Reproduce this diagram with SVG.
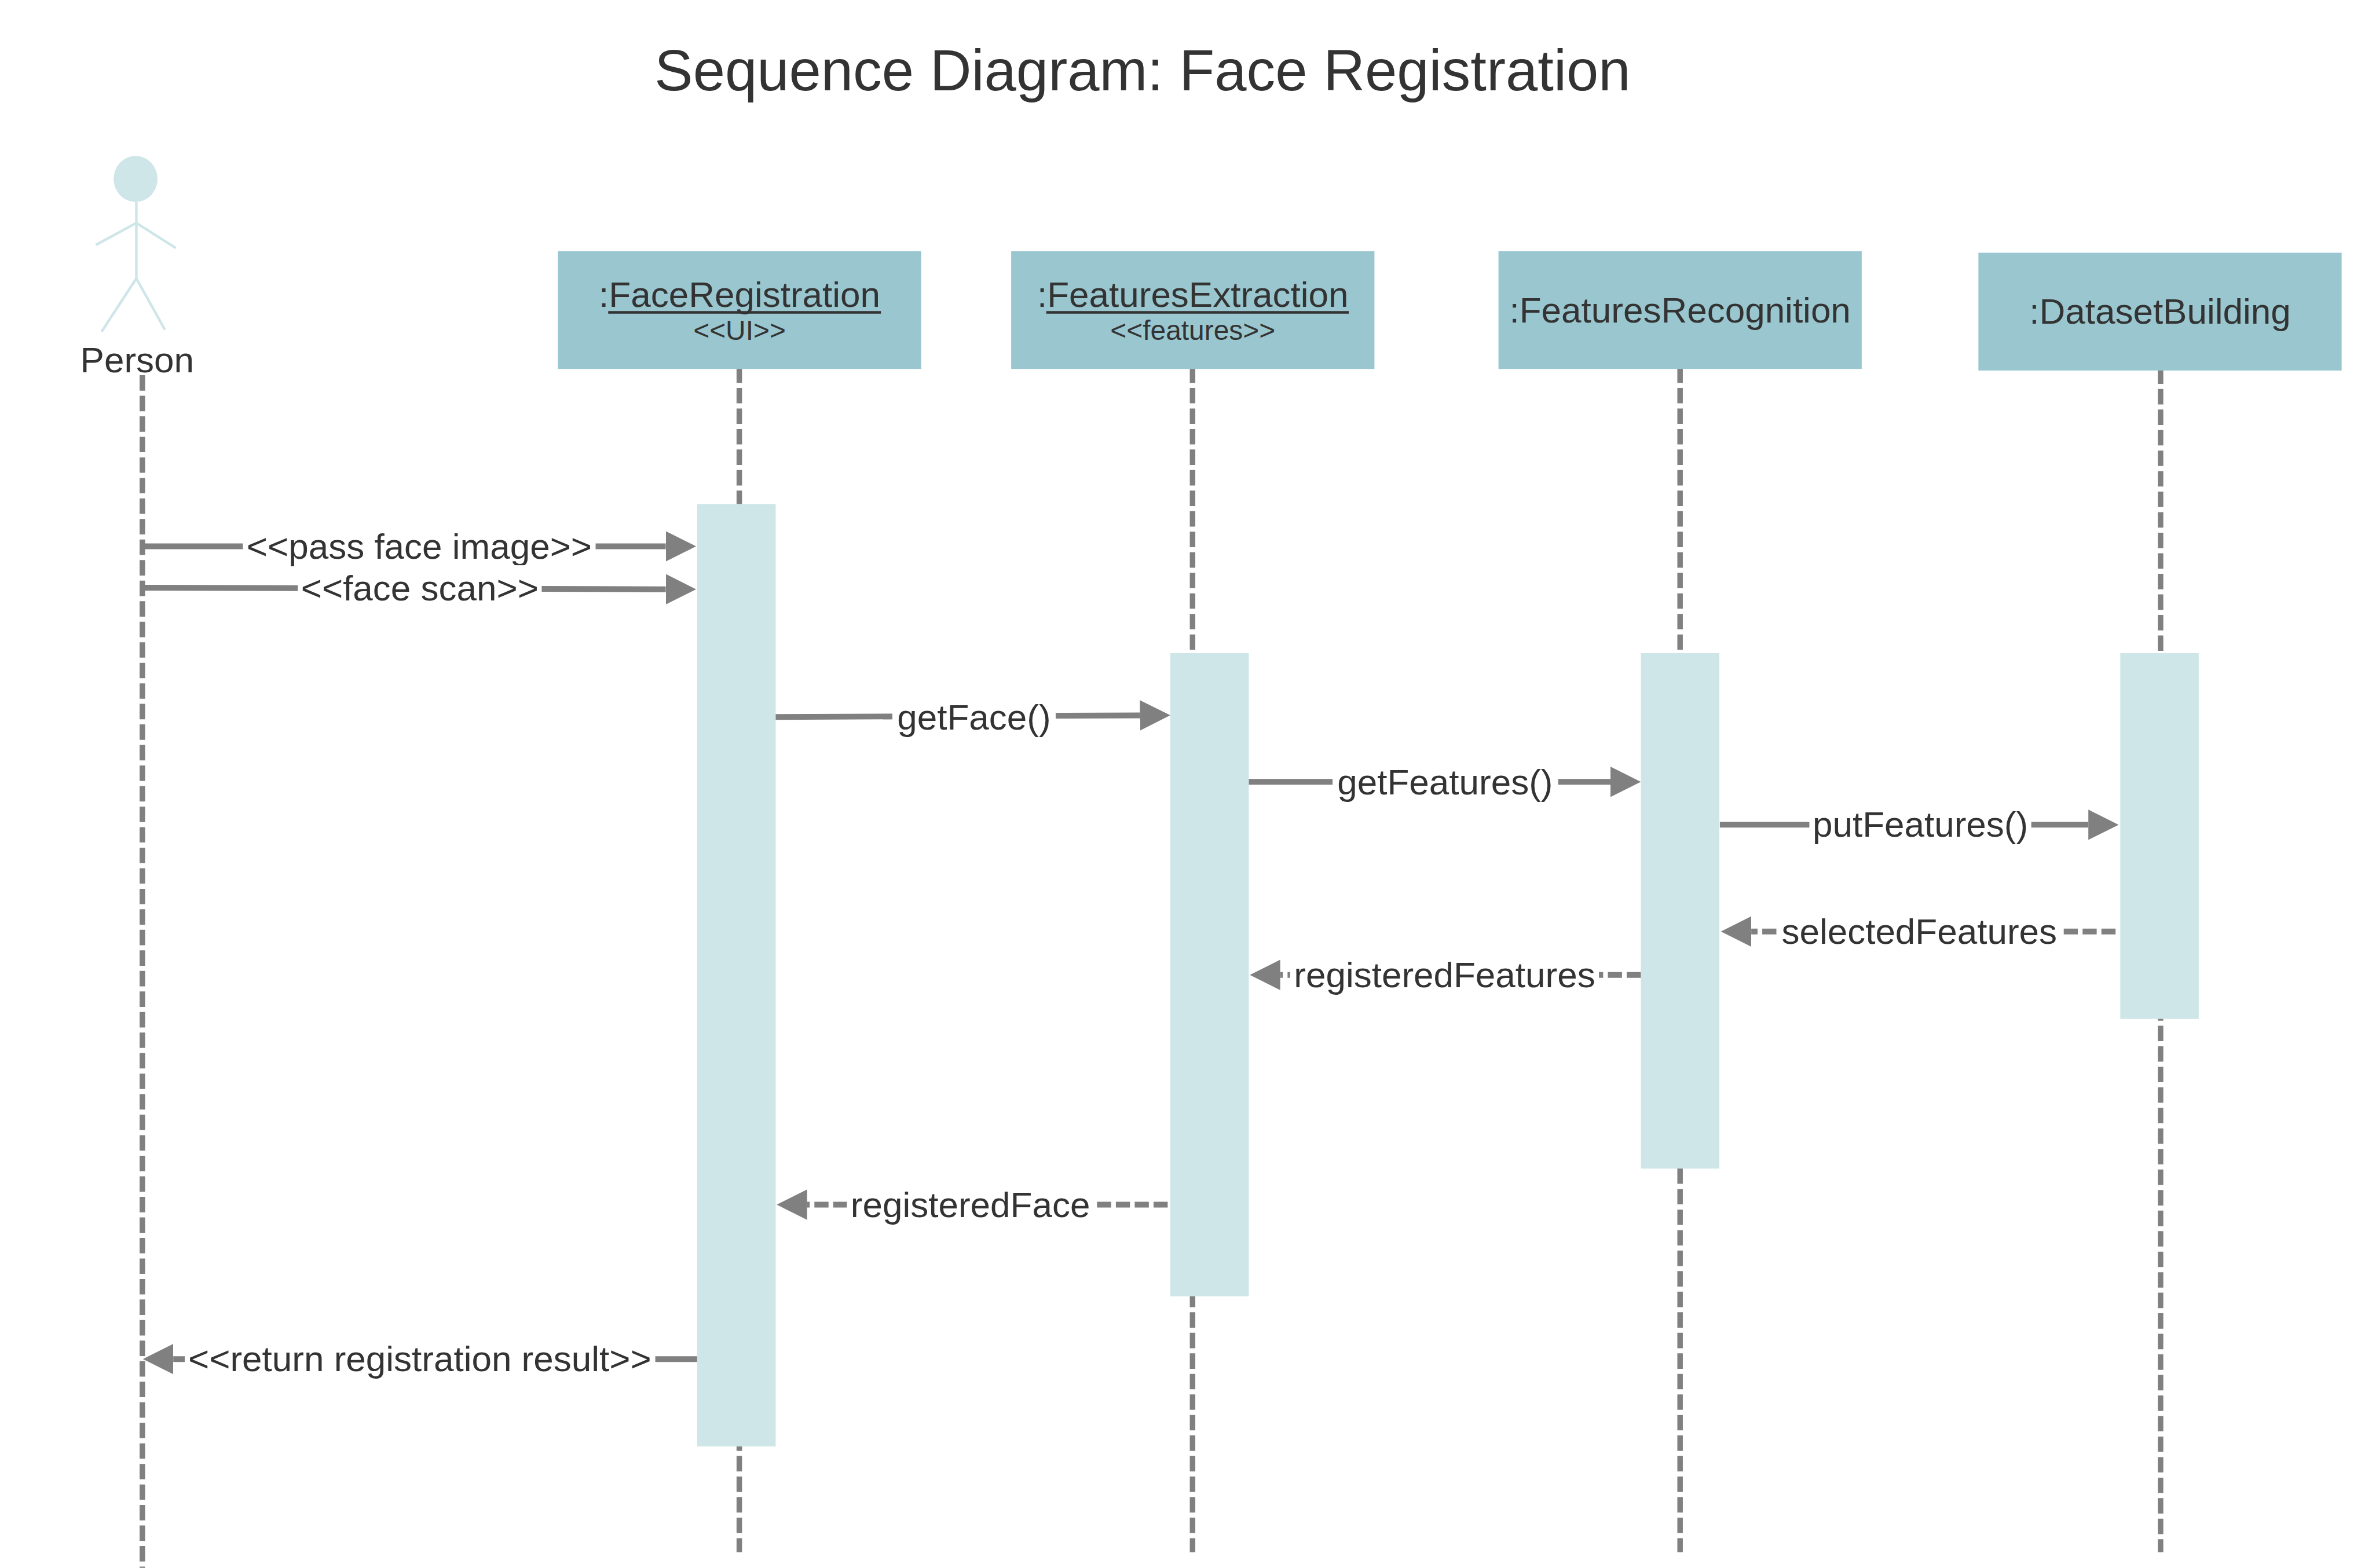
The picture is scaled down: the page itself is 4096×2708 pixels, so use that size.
<svg xmlns="http://www.w3.org/2000/svg" width="4096" height="2708" viewBox="0 0 4096 2708">
<style>
text{font-family:"Liberation Sans",Arial,sans-serif;fill:#333;text-anchor:middle}
.t{font-size:110px}.l{font-size:68.6px}.s{font-size:53px}
.box{fill:#99c6cf}.act{fill:#cfe6e9}
.life{stroke:#808080;stroke-width:10.500;stroke-dasharray:29.500 9.750;fill:none}
.msg{stroke:#808080;stroke-width:11;fill:none;marker-end:url(#ah)}
.ret{stroke-dasharray:27 9}
.bg{fill:#fff}
.ul{stroke:#333;stroke-width:5}
.stick{stroke:#cfe6e9;stroke-width:5;fill:none}
</style>
<defs><marker id="ah" markerUnits="userSpaceOnUse" markerWidth="60" markerHeight="60" refX="0" refY="30" orient="auto"><path d="M0 1L58 30L0 59Z" fill="#808080"/></marker></defs>
<rect width="4096" height="2708" fill="#fff"/>
<g transform="scale(.9038)">
<text id="title" class="t" x="2183" y="173">Sequence Diagram: Face Registration</text>
<g id="lifelines">
<path class="life" d="M272 717V2996"/>
<path class="life" d="M1412.500 702V2966"/>
<path class="life" d="M2278.500 702V2966"/>
<path class="life" d="M3210 702V2966"/>
<path class="life" d="M4128 704V2966"/>
</g>
<g id="person">
<ellipse cx="259" cy="342" rx="42" ry="44" fill="#cfe6e9"/>
<path class="stick" d="M260.500 386V532M183 468L260.500 426L336 474M194 634L260.500 532L315 630"/>
<text class="l" x="262" y="712">Person</text>
</g>
<g id="faceRegistration">
<rect class="box" x="1066" y="480" width="694" height="225"/>
<text class="l" x="1413" y="586">:FaceRegistration</text>
<path class="ul" d="M1162 597H1683"/>
<text class="s" x="1413" y="649">&lt;&lt;UI&gt;&gt;</text>
</g>
<g id="featuresExtraction">
<rect class="box" x="1932" y="480" width="694" height="225"/>
<text class="l" x="2279" y="586">:FeaturesExtraction</text>
<path class="ul" d="M1999 597H2577"/>
<text class="s" x="2279" y="649">&lt;&lt;features&gt;&gt;</text>
</g>
<g id="featuresRecognition">
<rect class="box" x="2863" y="480" width="694" height="225"/>
<text class="l" x="3210" y="616">:FeaturesRecognition</text>
</g>
<g id="datasetBuilding">
<rect class="box" x="3780" y="483" width="694" height="225"/>
<text class="l" x="4127" y="619">:DatasetBuilding</text>
</g>
<g id="activations">
<rect class="act" x="1332" y="963" width="150" height="1801"/>
<rect class="act" x="2236" y="1248" width="150" height="1229"/>
<rect class="act" x="3135" y="1248" width="150" height="985"/>
<rect class="act" x="4051" y="1248" width="150" height="699"/>
</g>
<g id="connectors">
<path class="msg" d="M272 1044H1272"/>
<rect class="bg" x="464" y="1000" width="674" height="88"/>
<text class="l" x="801" y="1068">&lt;&lt;pass face image&gt;&gt;</text>
<path class="msg" d="M272 1123L1272 1126"/>
<rect class="bg" x="569" y="1080" width="466" height="88"/>
<text class="l" x="802" y="1147">&lt;&lt;face scan&gt;&gt;</text>
<path class="msg" d="M1482 1370L2178 1367"/>
<rect class="bg" x="1705" y="1326" width="312" height="88"/>
<text class="l" x="1861" y="1394">getFace()</text>
<path class="msg" d="M2386 1494H3077"/>
<rect class="bg" x="2546" y="1450" width="431" height="88"/>
<text class="l" x="2761" y="1518">getFeatures()</text>
<path class="msg" d="M3286 1576H3990"/>
<rect class="bg" x="3457" y="1532" width="424" height="88"/>
<text class="l" x="3669" y="1599">putFeatures()</text>
<path class="msg ret" d="M4042 1780H3346"/>
<rect class="bg" x="3399" y="1736" width="537" height="88"/>
<text class="l" x="3667" y="1804">selectedFeatures</text>
<path class="msg ret" d="M3135 1863H2446"/>
<rect class="bg" x="2465" y="1819" width="590" height="88"/>
<text class="l" x="2760" y="1887">registeredFeatures</text>
<path class="msg ret" d="M2231 2302H1542"/>
<rect class="bg" x="1618" y="2258" width="472" height="88"/>
<text class="l" x="1854" y="2326">registeredFace</text>
<path class="msg" d="M1332 2597H331"/>
<rect class="bg" x="353" y="2553" width="899" height="88"/>
<text class="l" x="802" y="2620">&lt;&lt;return registration result&gt;&gt;</text>
</g>
</g>
</svg>
